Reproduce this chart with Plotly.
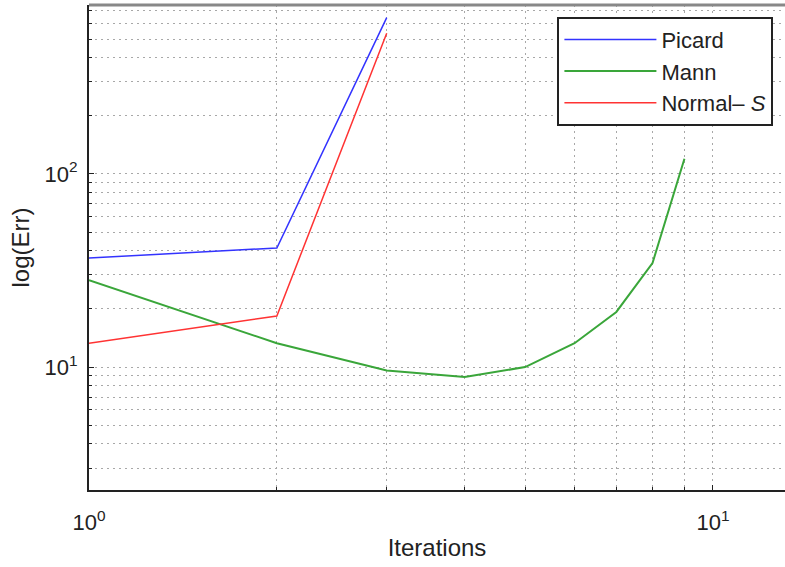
import plotly.graph_objects as go
import numpy as np

iters_picard = [1, 2, 3]
err_picard = [36.7, 41.4, 645]
iters_mann = [1, 2, 3, 4, 5, 6, 7, 8, 9]
err_mann = [28.2, 13.3, 9.6, 8.9, 10.0, 13.3, 19.3, 34.6, 120]
iters_normal = [1, 2, 3]
err_normal = [13.3, 18.4, 535]

x_tickvals = [1, 10]
x_ticktext = ["10<sup>0</sup>", "10<sup>1</sup>"]
y_tickvals = [10, 100]
y_ticktext = ["10<sup>1</sup>", "10<sup>2</sup>"]

FONT = "Liberation Sans, Arial, sans-serif"
GRIDC = "#a8a8a8"
GDASH = "2px,4px"

fig = go.Figure()
fig.add_trace(go.Scatter(x=iters_picard, y=err_picard, mode="lines", name="Picard",
                         line=dict(color="#3333ff", width=1.5)))
fig.add_trace(go.Scatter(x=iters_mann, y=err_mann, mode="lines", name="Mann",
                         line=dict(color="#3aa63a", width=2)))
fig.add_trace(go.Scatter(x=iters_normal, y=err_normal, mode="lines", name="Normal\u2013 <i>S</i>",
                         line=dict(color="#ff3333", width=1.5)))

fig.update_xaxes(type="log", range=[0, 1.1154],
                 tickvals=x_tickvals, ticktext=x_ticktext,
                 ticks="inside", ticklen=5, tickcolor="#222",
                 showline=True, linecolor="#222", linewidth=2,
                 ticklabelstandoff=12,
                 tickfont=dict(family=FONT, size=22, color="#222"),
                 title=dict(text="Iterations", font=dict(family=FONT, size=24, color="#222"), standoff=5),
                 minor=dict(dtick="D1", ticks="inside", ticklen=3, tickcolor="#222",
                            showgrid=True, gridcolor=GRIDC, gridwidth=1, griddash=GDASH),
                 zeroline=False, showgrid=True, gridcolor=GRIDC, gridwidth=1, griddash=GDASH)
fig.update_yaxes(type="log", range=[np.log10(2.31), np.log10(750)],
                 tickvals=y_tickvals, ticktext=y_ticktext,
                 ticks="inside", ticklen=5, tickcolor="#222",
                 showline=True, linecolor="#222", linewidth=2,
                 ticklabelstandoff=5,
                 tickfont=dict(family=FONT, size=22, color="#222"),
                 title=dict(text="log(Err)", font=dict(family=FONT, size=24, color="#222"), standoff=8),
                 minor=dict(dtick="D1", ticks="inside", ticklen=3, tickcolor="#222",
                            showgrid=True, gridcolor=GRIDC, gridwidth=1, griddash=GDASH),
                 zeroline=False, showgrid=True, gridcolor=GRIDC, gridwidth=1, griddash=GDASH)

fig.add_shape(type="line", xref="paper", yref="paper", x0=0, x1=1, y0=1, y1=1,
              line=dict(color="#888", width=3))

fig.update_layout(
    width=785, height=567,
    margin=dict(l=89, r=0, t=5, b=77),
    paper_bgcolor="white", plot_bgcolor="white",
    font=dict(family=FONT, color="#222"),
    showlegend=True,
    legend=dict(x=0.673, y=0.976, xanchor="left", yanchor="top",
                bgcolor="white", bordercolor="#222", borderwidth=2,
                font=dict(family=FONT, size=22, color="#222"),
                itemwidth=92, tracegroupgap=0),
)

fig.write_html("out.html")
